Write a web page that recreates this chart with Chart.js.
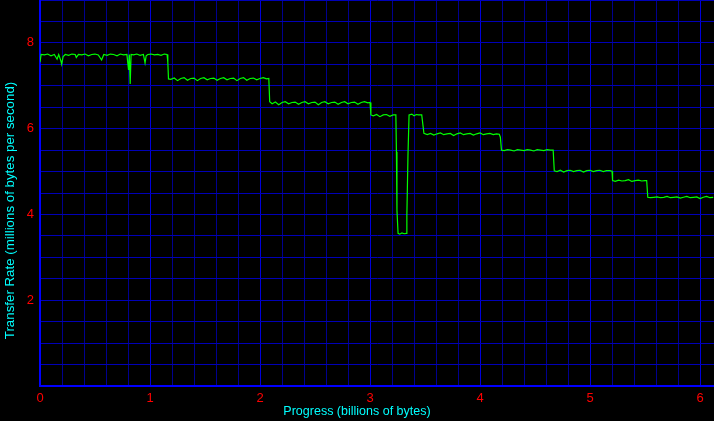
<!DOCTYPE html>
<html>
<head>
<meta charset="utf-8">
<script src="https://cdn.jsdelivr.net/npm/chart.js@4.4.1/dist/chart.umd.min.js"></script>
<style>
  html, body { margin: 0; padding: 0; background: #000; overflow: hidden; }
  canvas { display: block; }
</style>
</head>
<body>
<canvas id="c" width="714" height="421"></canvas>
<script>
// Progress (billions of bytes)
const progress = [
  0.00, 0.01, 0.04, 0.07, 0.10, 0.13, 0.155, 0.17, 0.19, 0.197, 0.21, 0.23, 0.26, 0.29, 0.32, 0.33, 0.35, 0.38, 0.41, 0.44,
  0.47, 0.50, 0.53, 0.56, 0.58, 0.61, 0.64, 0.67, 0.70, 0.73, 0.76, 0.79, 0.805, 0.812, 0.82, 0.828, 0.85, 0.88, 0.91, 0.94,
  0.955, 0.965, 0.98, 1.01, 1.04, 1.07, 1.10, 1.13, 1.155, 1.162, 1.168,
  1.19, 1.22, 1.25, 1.28, 1.31, 1.34, 1.37, 1.40, 1.43, 1.46, 1.49, 1.52, 1.55, 1.58, 1.61, 1.64, 1.67, 1.70, 1.73, 1.76,
  1.79, 1.82, 1.85, 1.88, 1.91, 1.94, 1.97, 2.00, 2.03, 2.06, 2.08, 2.088,
  2.11, 2.14, 2.17, 2.20, 2.23, 2.26, 2.29, 2.32, 2.35, 2.38, 2.41, 2.44, 2.47, 2.50, 2.53, 2.56, 2.59, 2.62, 2.65, 2.68,
  2.71, 2.74, 2.77, 2.80, 2.83, 2.86, 2.89, 2.92, 2.95, 2.98, 3.00, 3.008,
  3.03, 3.06, 3.09, 3.12, 3.15, 3.18, 3.21, 3.235, 3.24, 3.245, 3.255, 3.27, 3.29, 3.31, 3.33, 3.335, 3.345, 3.355,
  3.38, 3.40, 3.42, 3.44, 3.47, 3.49,
  3.52, 3.55, 3.58, 3.61, 3.64, 3.67, 3.70, 3.73, 3.76, 3.79, 3.82, 3.85, 3.88, 3.91, 3.94, 3.97, 4.00, 4.03, 4.06, 4.09,
  4.12, 4.15, 4.175, 4.185, 4.195,
  4.22, 4.25, 4.28, 4.31, 4.34, 4.37, 4.40, 4.43, 4.46, 4.49, 4.52, 4.55, 4.58, 4.61, 4.64, 4.665, 4.675,
  4.70, 4.73, 4.76, 4.79, 4.82, 4.85, 4.88, 4.91, 4.94, 4.97, 5.00, 5.03, 5.06, 5.09, 5.12, 5.15, 5.18, 5.20, 5.205,
  5.23, 5.26, 5.29, 5.32, 5.35, 5.38, 5.41, 5.44, 5.47, 5.50, 5.515, 5.525,
  5.55, 5.58, 5.61, 5.64, 5.67, 5.70, 5.73, 5.76, 5.79, 5.82, 5.85, 5.88, 5.91, 5.94, 5.97, 6.00, 6.03, 6.06, 6.09, 6.12
];
// Transfer Rate (millions of bytes per second)
const transferRate = [
  7.55, 7.73, 7.72, 7.74, 7.70, 7.73, 7.62, 7.73, 7.58, 7.50, 7.68, 7.73, 7.71, 7.74, 7.73, 7.66, 7.73, 7.72, 7.74, 7.70,
  7.73, 7.74, 7.72, 7.60, 7.73, 7.71, 7.74, 7.73, 7.70, 7.74, 7.72, 7.73, 7.37, 7.73, 7.04, 7.73, 7.72, 7.74, 7.71, 7.73,
  7.53, 7.70, 7.73, 7.74, 7.72, 7.73, 7.71, 7.74, 7.73, 7.55, 7.16,
  7.15, 7.18, 7.12, 7.17, 7.19, 7.13, 7.17, 7.18, 7.12, 7.17, 7.19, 7.14, 7.17, 7.18, 7.13, 7.17, 7.19, 7.14, 7.17, 7.18,
  7.12, 7.17, 7.19, 7.13, 7.17, 7.18, 7.14, 7.17, 7.19, 7.16, 7.17, 6.63,
  6.58, 6.62, 6.56, 6.61, 6.63, 6.58, 6.61, 6.62, 6.57, 6.61, 6.63, 6.58, 6.61, 6.62, 6.56, 6.61, 6.63, 6.58, 6.61, 6.62,
  6.57, 6.61, 6.63, 6.58, 6.61, 6.62, 6.57, 6.61, 6.63, 6.60, 6.61, 6.32,
  6.30, 6.33, 6.28, 6.32, 6.33, 6.29, 6.32, 6.32, 5.46, 4.09, 3.56, 3.54, 3.57, 3.55, 3.56, 3.97, 5.37, 6.32,
  6.34, 6.30, 6.33, 6.32, 6.32, 5.89,
  5.86, 5.89, 5.85, 5.88, 5.90, 5.86, 5.88, 5.89, 5.84, 5.88, 5.90, 5.86, 5.88, 5.89, 5.85, 5.88, 5.90, 5.86, 5.88, 5.89,
  5.86, 5.88, 5.87, 5.80, 5.50,
  5.49, 5.51, 5.50, 5.48, 5.51, 5.50, 5.49, 5.51, 5.50, 5.48, 5.51, 5.50, 5.49, 5.51, 5.50, 5.50, 5.02,
  5.00, 5.03, 4.99, 5.02, 5.03, 5.00, 5.02, 5.03, 4.99, 5.02, 5.03, 5.00, 5.02, 5.03, 5.00, 5.02, 5.02, 5.01, 4.79,
  4.77, 4.80, 4.78, 4.79, 4.81, 4.77, 4.79, 4.80, 4.78, 4.79, 4.79, 4.40,
  4.39, 4.40, 4.41, 4.39, 4.40, 4.42, 4.39, 4.40, 4.41, 4.38, 4.40, 4.42, 4.39, 4.40, 4.41, 4.37, 4.40, 4.42, 4.39, 4.40
];
// Grid / tick values
const xTickValues = [0, 0.2, 0.4, 0.6, 0.8, 1, 1.2, 1.4, 1.6, 1.8, 2, 2.2, 2.4, 2.6, 2.8, 3, 3.2, 3.4, 3.6, 3.8,
  4, 4.2, 4.4, 4.6, 4.8, 5, 5.2, 5.4, 5.6, 5.8, 6];
const xTickLabels = [0, 1, 2, 3, 4, 5, 6];
const yTickValues = [0, 0.5, 1, 1.5, 2, 2.5, 3, 3.5, 4, 4.5, 5, 5.5, 6, 6.5, 7, 7.5, 8, 8.5, 9];
const yTickLabels = [2, 4, 6, 8];
const xMin = 0, xMax = 6.127, yMin = 0, yMax = 9;
const xTitle = 'Progress (billions of bytes)';
const yTitle = 'Transfer Rate (millions of bytes per second)';

const points = progress.map((x, i) => ({ x: x, y: transferRate[i] }));

const titlesPlugin = {
  id: 'axisTitles',
  afterDraw(chart) {
    const ctx = chart.ctx;
    ctx.save();
    ctx.fillStyle = '#00ffff';
    ctx.textAlign = 'center';
    ctx.textBaseline = 'middle';
    ctx.font = '12.5px "Liberation Sans", Arial, sans-serif';
    ctx.fillText(xTitle, chart.width / 2, 412);
    ctx.translate(10, chart.height / 2);
    ctx.rotate(-Math.PI / 2);
    ctx.font = '13.3px "Liberation Sans", Arial, sans-serif';
    ctx.fillText(yTitle, 0, 0);
    ctx.restore();
  }
};

new Chart(document.getElementById('c'), {
  type: 'line',
  data: {
    datasets: [{
      data: points,
      borderColor: '#00ff00',
      borderWidth: 1.2,
      pointRadius: 0,
      tension: 0,
      fill: false
    }]
  },
  options: {
    responsive: false,
    animation: false,
    layout: { padding: 0 },
    plugins: { legend: { display: false }, tooltip: { enabled: false } },
    scales: {
      x: {
        type: 'linear',
        min: xMin, max: xMax,
        afterBuildTicks(s) { s.ticks = xTickValues.map(v => ({ value: v })); },
        afterFit(s) { s.height = 35; s.paddingLeft = 0; s.paddingRight = 0; },
        ticks: {
          autoSkip: false,
          maxRotation: 0,
          padding: 5,
          color: '#ff0000',
          font: { family: '"Liberation Sans", Arial, sans-serif', size: 13 },
          callback(v) { return xTickLabels.includes(v) ? String(v) : ''; }
        },
        grid: {
          drawTicks: false,
          lineWidth: 1,
          color(ctx) { return (ctx.tick && xTickLabels.includes(ctx.tick.value)) ? '#0000dc' : '#000090'; }
        },
        border: { display: true, color: '#0000ff', width: 2 }
      },
      y: {
        type: 'linear',
        min: yMin, max: yMax,
        afterBuildTicks(s) { s.ticks = yTickValues.map(v => ({ value: v })); },
        afterFit(s) { s.width = 40; s.paddingTop = 0; s.paddingBottom = 0; },
        ticks: {
          autoSkip: false,
          padding: 6,
          color: '#ff0000',
          font: { family: '"Liberation Sans", Arial, sans-serif', size: 13 },
          callback(v) { return yTickLabels.includes(v) ? String(v) : ''; }
        },
        grid: {
          drawTicks: false,
          lineWidth: 1,
          color: '#0000b8'
        },
        border: { display: true, color: '#0000ff', width: 2 }
      }
    }
  },
  plugins: [titlesPlugin]
});
</script>
</body>
</html>
